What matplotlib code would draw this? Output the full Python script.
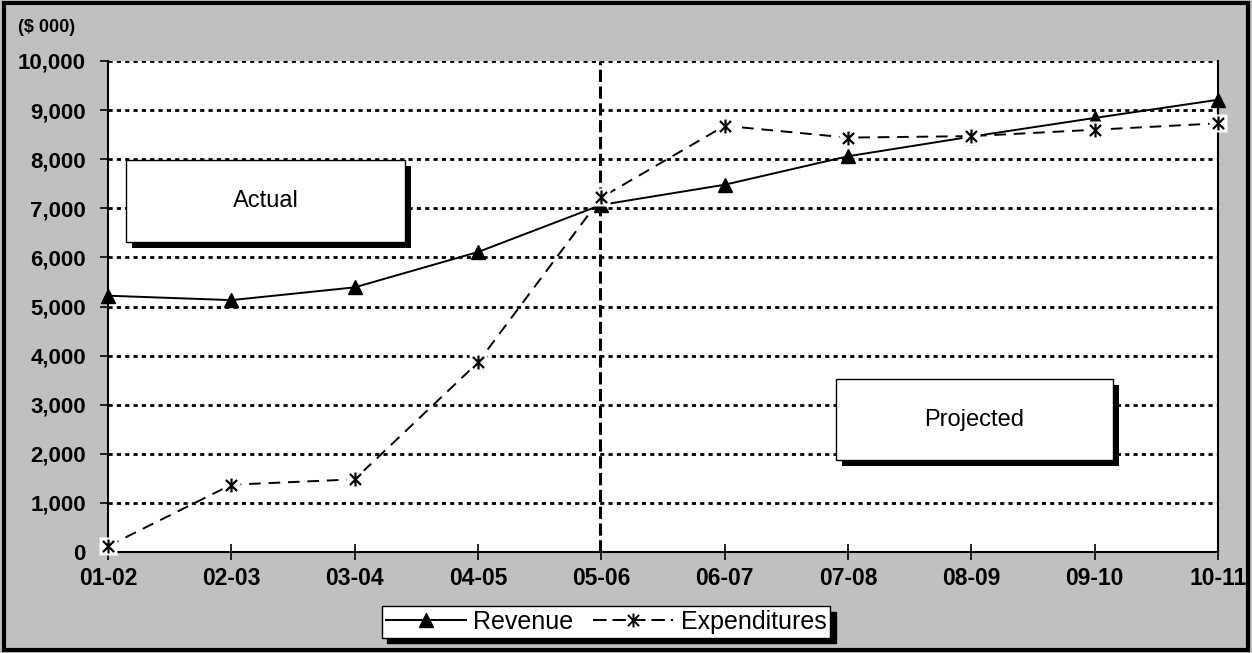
import numpy as np
import matplotlib.pyplot as plt
from matplotlib.path import Path
from matplotlib.patches import Rectangle

plt.rcParams['font.family'] = ['Liberation Sans', 'DejaVu Sans']

years = ["01-02", "02-03", "03-04", "04-05", "05-06", "06-07", "07-08", "08-09", "09-10", "10-11"]
revenue = [5220, 5130, 5390, 6110, 7070, 7480, 8060, 8460, 8840, 9210]
expenditures = [120, 1370, 1480, 3860, 7220, 8680, 8440, 8470, 8600, 8730]
y_ticks = [0, 1000, 2000, 3000, 4000, 5000, 6000, 7000, 8000, 9000, 10000]
split_year = "05-06"

# excel-ish star marker: X plus vertical bar
star = Path([(0, -1), (0, 1), (-0.8, -0.8), (0.8, 0.8), (-0.8, 0.8), (0.8, -0.8)],
            [Path.MOVETO, Path.LINETO, Path.MOVETO, Path.LINETO, Path.MOVETO, Path.LINETO])

grey = "#C0C0C0"
fig = plt.figure(figsize=(12.52, 6.53), dpi=100, facecolor=grey)
ax = fig.add_axes([108/1252, 1-552/653, 1110/1252, 491/653])
ax.set_facecolor("white")

x = np.arange(len(years))
ax.set_xlim(0, len(years)-1)
ax.set_ylim(0, 10000)

for v in y_ticks[1:]:
    ax.axhline(v, color="black", lw=2, ls=(0, (1.5, 1.5)), zorder=1)

ax.axvline(years.index(split_year) - 0.01, color="black", lw=2.2, ls=(0, (4, 1.5)), zorder=2)

ax.plot(x, revenue, color="black", lw=1.4, marker="^", ms=10.5, zorder=3, clip_on=False)
ax.plot(x, expenditures, color="black", lw=1.4, ls=(0, (6, 4)), zorder=4, clip_on=False)
ax.plot(x, expenditures, ls="none", marker="s", ms=13, mfc="white", mec="none", zorder=5, clip_on=False)
ax.plot(x, expenditures, ls="none", marker=star, ms=10, mfc="none", mec="black", mew=1.6, zorder=6, clip_on=False)

ax.set_xticks(x)
ax.set_xticklabels(years, fontsize=16.5, fontweight="bold")
ax.set_yticks(y_ticks)
ax.set_yticklabels([f"{v:,}" for v in y_ticks], fontsize=16, fontweight="bold")
ax.tick_params(axis="x", direction="inout", length=12, width=1.2, pad=5)
ax.tick_params(axis="y", direction="out", length=6, width=1.2, pad=10)
ax.spines["top"].set_visible(False)
for s in ["left", "bottom", "right"]:
    ax.spines[s].set_linewidth(1.5)

def label_box(x0, y0, w, h, text):
    ax.add_patch(Rectangle((x0 + 0.005, y0 - 0.012), w, h, transform=ax.transAxes,
                           facecolor="black", edgecolor="none", zorder=7))
    ax.add_patch(Rectangle((x0, y0), w, h, transform=ax.transAxes,
                           facecolor="white", edgecolor="black", lw=1, zorder=8))
    ax.text(x0 + w/2, y0 + h/2, text, transform=ax.transAxes, ha="center", va="center",
            fontsize=17, zorder=9)

label_box(0.0162, 0.631, 0.2514, 0.167, "Actual")
label_box(0.656, 0.187, 0.2494, 0.165, "Projected")

fig.text(18/1252, 1-28/653, "($ 000)", fontsize=13, fontweight="bold", va="center", ha="left")

h1, = ax.plot([], [], color="black", lw=1.4, marker="^", ms=10.5)
h2, = ax.plot([], [], color="black", lw=1.4, ls=(0, (7, 3)), marker=star, ms=10, mfc="none", mew=1.4)
leg = fig.legend([h1, h2], ["Revenue", "Expenditures"], loc="center", bbox_to_anchor=(606/1252, 1-622/653),
                 ncol=2, fontsize=18, frameon=True, fancybox=False,
                 shadow={"color": "black", "alpha": 1, "ox": 4, "oy": -4},
                 edgecolor="black", handlelength=3.2, handletextpad=0.3, columnspacing=0.8,
                 borderpad=0.15, borderaxespad=0)
leg.get_frame().set_linewidth(1)

fig.add_artist(Rectangle((0.003, 0.005), 0.994, 0.99, transform=fig.transFigure,
                         facecolor="none", edgecolor="black", lw=3))

fig.savefig("out.png", dpi=100, facecolor=grey)
